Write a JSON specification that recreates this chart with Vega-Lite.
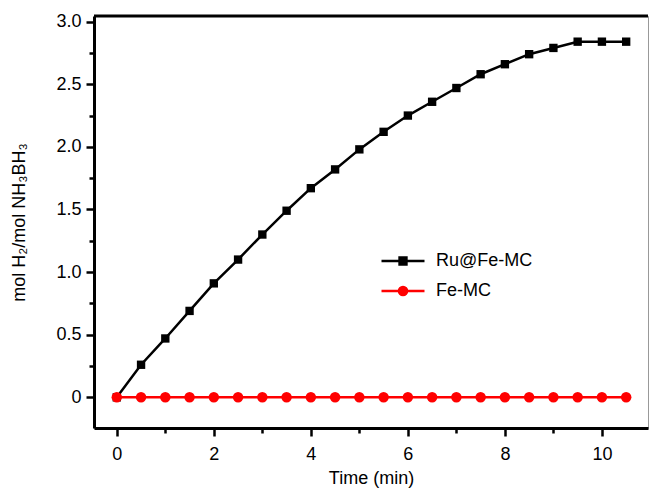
{
  "$schema": "https://vega.github.io/schema/vega-lite/v6.json",
  "width": 554,
  "height": 412,
  "autosize": "none",
  "padding": {"left": 94, "top": 16, "right": 1, "bottom": 63},
  "background": "white",
  "config": {
    "font": "Liberation Sans",
    "view": {"stroke": "#999999", "strokeWidth": 1},
    "axis": {"grid": false, "domainColor": "black", "domainWidth": 3, "tickColor": "black", "tickWidth": 2.5, "labelColor": "black", "titleColor": "black", "labelFont": "Liberation Sans", "titleFont": "Liberation Sans", "labelFontSize": 18, "titleFontSize": 18, "titleFontWeight": "normal"}
  },
  "data": {"values": [
    {"t": 0, "v": 0, "s": "Ru@Fe-MC"},
    {"t": 0.5, "v": 0.26, "s": "Ru@Fe-MC"},
    {"t": 1, "v": 0.47, "s": "Ru@Fe-MC"},
    {"t": 1.5, "v": 0.69, "s": "Ru@Fe-MC"},
    {"t": 2, "v": 0.91, "s": "Ru@Fe-MC"},
    {"t": 2.5, "v": 1.1, "s": "Ru@Fe-MC"},
    {"t": 3, "v": 1.3, "s": "Ru@Fe-MC"},
    {"t": 3.5, "v": 1.49, "s": "Ru@Fe-MC"},
    {"t": 4, "v": 1.67, "s": "Ru@Fe-MC"},
    {"t": 4.5, "v": 1.82, "s": "Ru@Fe-MC"},
    {"t": 5, "v": 1.98, "s": "Ru@Fe-MC"},
    {"t": 5.5, "v": 2.12, "s": "Ru@Fe-MC"},
    {"t": 6, "v": 2.25, "s": "Ru@Fe-MC"},
    {"t": 6.5, "v": 2.36, "s": "Ru@Fe-MC"},
    {"t": 7, "v": 2.47, "s": "Ru@Fe-MC"},
    {"t": 7.5, "v": 2.58, "s": "Ru@Fe-MC"},
    {"t": 8, "v": 2.66, "s": "Ru@Fe-MC"},
    {"t": 8.5, "v": 2.74, "s": "Ru@Fe-MC"},
    {"t": 9, "v": 2.79, "s": "Ru@Fe-MC"},
    {"t": 9.5, "v": 2.84, "s": "Ru@Fe-MC"},
    {"t": 10, "v": 2.84, "s": "Ru@Fe-MC"},
    {"t": 10.5, "v": 2.84, "s": "Ru@Fe-MC"},
    {"t": 0, "v": 0, "s": "Fe-MC"},
    {"t": 0.5, "v": 0, "s": "Fe-MC"},
    {"t": 1, "v": 0, "s": "Fe-MC"},
    {"t": 1.5, "v": 0, "s": "Fe-MC"},
    {"t": 2, "v": 0, "s": "Fe-MC"},
    {"t": 2.5, "v": 0, "s": "Fe-MC"},
    {"t": 3, "v": 0, "s": "Fe-MC"},
    {"t": 3.5, "v": 0, "s": "Fe-MC"},
    {"t": 4, "v": 0, "s": "Fe-MC"},
    {"t": 4.5, "v": 0, "s": "Fe-MC"},
    {"t": 5, "v": 0, "s": "Fe-MC"},
    {"t": 5.5, "v": 0, "s": "Fe-MC"},
    {"t": 6, "v": 0, "s": "Fe-MC"},
    {"t": 6.5, "v": 0, "s": "Fe-MC"},
    {"t": 7, "v": 0, "s": "Fe-MC"},
    {"t": 7.5, "v": 0, "s": "Fe-MC"},
    {"t": 8, "v": 0, "s": "Fe-MC"},
    {"t": 8.5, "v": 0, "s": "Fe-MC"},
    {"t": 9, "v": 0, "s": "Fe-MC"},
    {"t": 9.5, "v": 0, "s": "Fe-MC"},
    {"t": 10, "v": 0, "s": "Fe-MC"},
    {"t": 10.5, "v": 0, "s": "Fe-MC"}
  ]},
  "encoding": {
    "x": {"field": "t", "type": "quantitative", "scale": {"domain": [-0.47, 10.95], "nice": false, "zero": false},
      "axis": {"title": "Time (min)", "values": [0,1,2,3,4,5,6,7,8,9,10], "labelExpr": "datum.value % 2 == 0 ? datum.label : ''",
        "domainWidth": 3, "tickWidth": 2.5,
        "tickSize": {"condition": {"test": "datum.value % 2 != 0", "value": 5}, "value": 8}, "labelPadding": 9, "titlePadding": 6}},
    "y": {"field": "v", "type": "quantitative", "scale": {"domain": [-0.245, 3.045], "nice": false, "zero": false},
      "axis": {"title": "mol H₂/mol NH₃BH₃", "values": [-0.25,0,0.25,0.5,0.75,1,1.25,1.5,1.75,2,2.25,2.5,2.75,3],
        "labelExpr": "datum.value == 0 ? '0' : (datum.value * 2) % 1 == 0 && datum.value > 0 ? format(datum.value, '.1f') : ''",
        "domainWidth": 3, "tickWidth": 2.5,
        "tickSize": {"condition": {"test": "(datum.value * 2) % 1 != 0", "value": 5}, "value": 8}, "labelPadding": 5, "titlePadding": 27}},
    "color": {"field": "s", "type": "nominal", "scale": {"domain": ["Ru@Fe-MC", "Fe-MC"], "range": ["black", "#ff0000"]},
      "legend": {"title": null, "orient": "none", "legendX": 286, "legendY": 230, "padding": 0, "rowPadding": 0, "clipHeight": 30,
        "labelFontSize": 18, "labelFont": "Liberation Sans", "labelColor": "black", "labelOffset": 10, "symbolSize": 1849, "symbolStrokeWidth": 2.5,
        "encode": {"symbols": {"update": {
          "shape": {"signal": "datum.value == 'Fe-MC' ? 'M-1,0H1M0.19,0A0.19,0.19 0 1,1 -0.19,0A0.19,0.19 0 1,1 0.19,0Z' : 'M-1,0H1M-0.16,-0.16H0.16V0.16H-0.16Z'"},
          "size": {"value": 1849},
          "fill": {"signal": "datum.value == 'Fe-MC' ? '#ff0000' : 'black'"},
          "stroke": {"signal": "datum.value == 'Fe-MC' ? '#ff0000' : 'black'"},
          "strokeWidth": {"value": 2.5},
          "opacity": {"value": 1}, "fillOpacity": {"value": 1}, "strokeOpacity": {"value": 1}
        }}}}}
  },
  "layer": [
    {"mark": {"type": "rule", "strokeWidth": 3, "color": "black"},
      "data": {"values": [{"top": 3.045}]},
      "encoding": {"x": null, "color": null, "y": {"field": "top", "type": "quantitative"}}},
    {"mark": {"type": "line", "strokeWidth": 2.5}},
    {"transform": [{"filter": "datum.s == 'Ru@Fe-MC'"}],
      "mark": {"type": "square", "size": 70, "opacity": 1}},
    {"transform": [{"filter": "datum.s == 'Fe-MC'"}],
      "mark": {"type": "circle", "size": 110, "opacity": 1}}
  ]
}
